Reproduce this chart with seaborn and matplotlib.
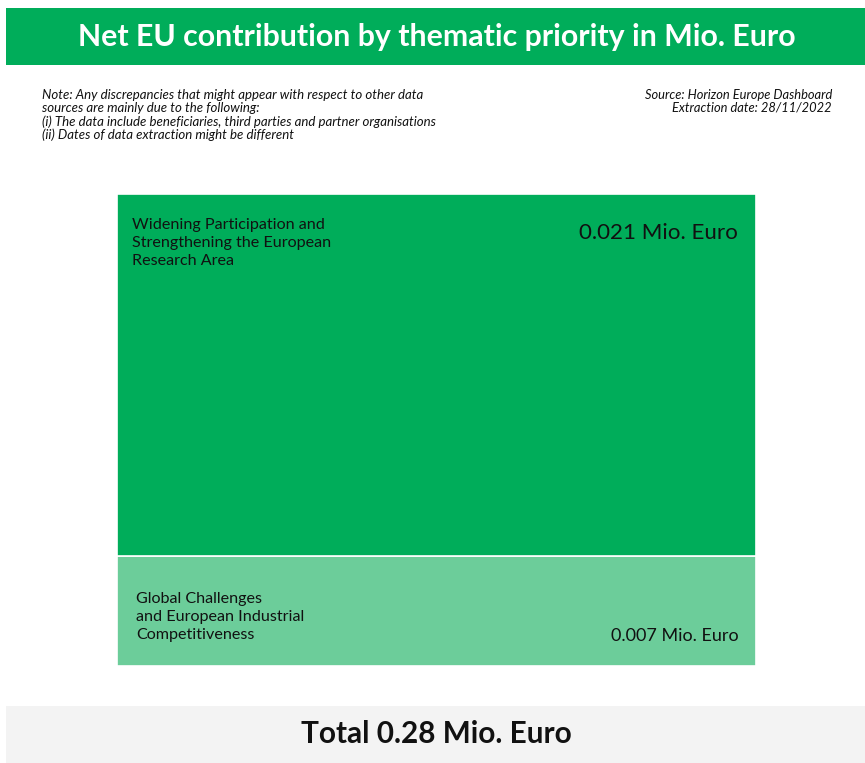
import matplotlib
matplotlib.use("Agg")
import matplotlib.pyplot as plt
import seaborn as sns
import numpy as np
from matplotlib.patches import Rectangle

categories = ["Global Challenges\nand European Industrial\nCompetitiveness",
              "Widening Participation and\nStrengthening the European\nResearch Area"]
values = [0.0065, 0.0215]
value_labels = ["0.007 Mio. Euro", "0.021 Mio. Euro"]
colors = ["#6ccd9a", "#00ad5a"]
title = "Net EU contribution by thematic priority in Mio. Euro"
total_label = "Total 0.28 Mio. Euro"
note = ("Note: Any discrepancies that might appear with respect to other data\n"
        "sources are mainly due to the following:\n"
        "(i) The data include beneficiaries, third parties and partner organisations\n"
        "(ii) Dates of data extraction might be different")
source = "Source: Horizon Europe Dashboard\nExtraction date: 28/11/2022"

sns.set_style("white")
plt.rcParams['font.family'] = ['Lato', 'DejaVu Sans']

W, H = 865, 763
fig = plt.figure(figsize=(W / 100, H / 100), dpi=100)
fig.patch.set_facecolor("white")

def fx(x):
    return x / W

def fy(y):
    return 1 - y / H

# header
fig.patches.append(Rectangle((fx(6), fy(65)), fx(859), (65 - 8) / H,
                             transform=fig.transFigure, facecolor="#00ad5a",
                             edgecolor="none", zorder=0))
fig.text(fx(437), fy(37), title, color="white", fontsize=21.8, fontweight="bold",
         ha="center", va="center")

fig.text(fx(42), fy(89), note, fontsize=9.5, style="italic", ha="left", va="top",
         linespacing=1.1, color="#111111")
fig.text(fx(832), fy(89), source, fontsize=9.3, style="italic", ha="right", va="top",
         linespacing=1.1, color="#111111")

# footer
fig.patches.append(Rectangle((fx(6), 0), fx(859), (763 - 706) / H,
                             transform=fig.transFigure, facecolor="#f3f3f3",
                             edgecolor="none", zorder=0))
fig.text(fx(436), fy(734), total_label, fontsize=21.4, fontweight="bold",
         ha="center", va="center", color="#111111")

# treemap as stacked bar
ax = fig.add_axes([fx(117), fy(666), fx(639), (666 - 194) / H])
total = float(np.sum(values))
bottoms = np.concatenate([[0], np.cumsum(values)[:-1]])
for v, b, c in zip(values, bottoms, colors):
    ax.bar(0, v, bottom=b, width=1.0, color=c, edgecolor="white", linewidth=1.2)
ax.set_xlim(-0.5, 0.5)
ax.set_ylim(0, total)
ax.axis("off")

px = total / 472.0

# bottom (light) segment
b0, v0 = bottoms[0], values[0]
ax.text(-0.5 + 19 / 639, b0 + v0 - 36 * px, categories[0],
        fontsize=11.6, ha="left", va="top", linespacing=1.36, color="#111111")
ax.text(0.5 - 17 / 639, b0 + 30 * px, value_labels[0],
        fontsize=13, ha="right", va="center", color="#111111")
# top segment
b1, v1 = bottoms[1], values[1]
ax.text(-0.5 + 15 / 639, b1 + v1 - 24 * px, categories[1],
        fontsize=11.6, ha="left", va="top", linespacing=1.36, color="#111111")
ax.text(0.5 - 18 / 639, b1 + v1 - 39 * px, value_labels[1],
        fontsize=16.1, ha="right", va="center", color="#111111")

fig.savefig("out.png", dpi=100, facecolor="white")
